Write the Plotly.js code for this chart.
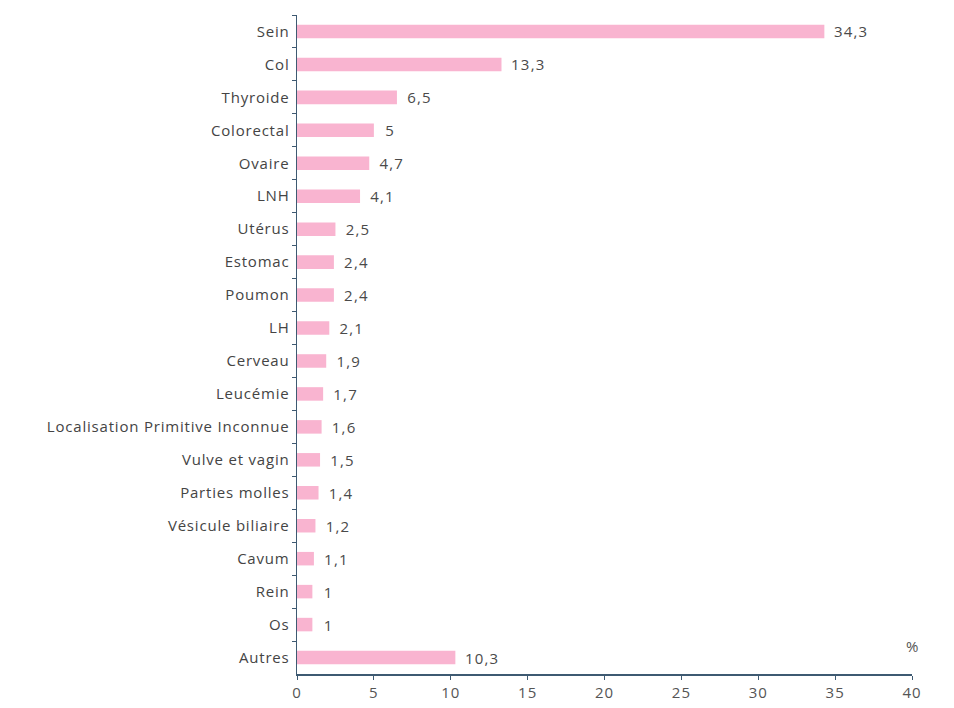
<!DOCTYPE html>
<html>
<head>
<meta charset="utf-8">
<script src="https://cdn.plot.ly/plotly-3.0.1.min.js"></script>
<style>
html,body{margin:0;padding:0;background:#fff;}
#chart{width:954px;height:708px;}
#chart .ytick text{letter-spacing:0.8px;}
#chart text.bartext, #chart .bartext text{letter-spacing:1.2px;}
#chart .xtick text{letter-spacing:1px;}
</style>
</head>
<body>
<div id="chart"></div>
<script>
const categories = ["Sein","Col","Thyroide","Colorectal","Ovaire","LNH","Utérus","Estomac","Poumon","LH","Cerveau","Leucémie","Localisation Primitive Inconnue","Vulve et vagin","Parties molles","Vésicule biliaire","Cavum","Rein","Os","Autres"];
const values = [34.3,13.3,6.5,5,4.7,4.1,2.5,2.4,2.4,2.1,1.9,1.7,1.6,1.5,1.4,1.2,1.1,1,1,10.3];
const xTicks = [0,5,10,15,20,25,30,35,40];

const labels = values.map(v => '  ' + String(v).replace('.', ','));

const trace = {
  type: 'bar',
  orientation: 'h',
  y: categories,
  x: values,
  text: labels,
  textposition: 'outside',
  constraintext: 'none',
  cliponaxis: false,
  textfont: {family: 'Open Sans, sans-serif', size: 15, color: '#4a4a4a'},
  marker: {color: '#f9b4d0'},
  width: 0.41,
  hoverinfo: 'none'
};

const layout = {
  width: 954, height: 708,
  margin: {l: 297, r: 42, t: 15, b: 34},
  paper_bgcolor: '#fff', plot_bgcolor: '#fff',
  showlegend: false,
  font: {family: 'Open Sans, sans-serif', color: '#444'},
  xaxis: {
    range: [0, 40],
    tickvals: xTicks,
    ticktext: xTicks.map(String),
    showgrid: false, zeroline: false,
    showline: true, linecolor: '#3e5a72', linewidth: 1.5,
    ticks: 'outside', ticklen: 4, tickcolor: '#3e5a72',
    tickfont: {size: 15, color: '#555'}
  },
  yaxis: {
    type: 'category',
    categoryorder: 'array', categoryarray: categories,
    autorange: 'reversed',
    showgrid: false, zeroline: false,
    showline: true, linecolor: '#3e5a72', linewidth: 1.5,
    ticks: 'outside', ticklen: 4, tickcolor: '#3e5a72',
    tickson: 'boundaries',
    tickfont: {size: 15, color: '#444'},
    ticklabelstandoff: 3
  },
  annotations: [{
    text: '%', xref: 'x', yref: 'paper', x: 40, y: 0, yshift: 16,
    showarrow: false, xanchor: 'center', yanchor: 'bottom',
    font: {size: 15, color: '#555'}
  }]
};

Plotly.newPlot('chart', [trace], layout, {displayModeBar: false, staticPlot: true});
</script>
</body>
</html>
